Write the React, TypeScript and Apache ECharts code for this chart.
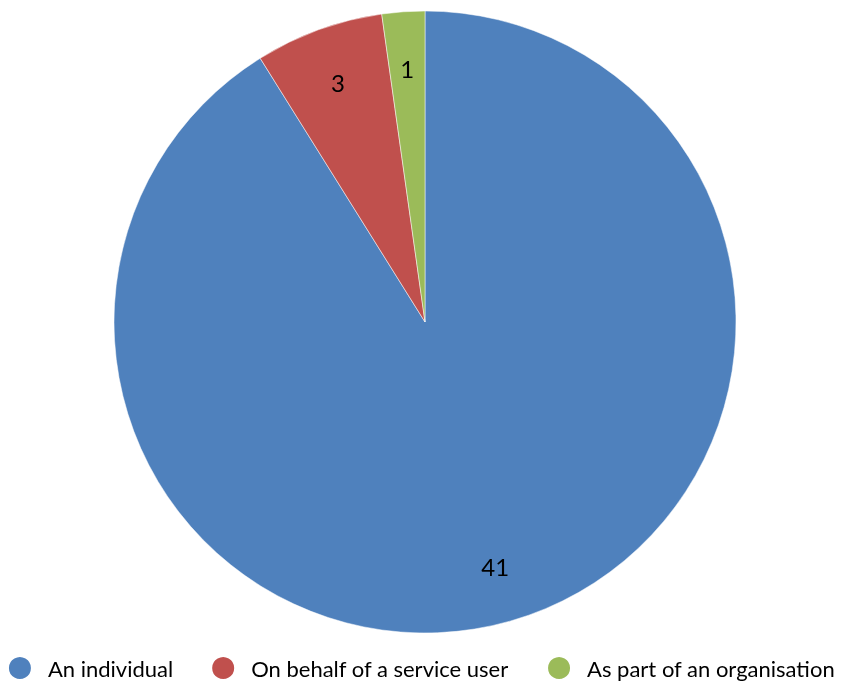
import React, { useEffect, useRef } from "react";
import * as echarts from "echarts";

const categories = ["An individual", "On behalf of a service user", "As part of an organisation"];
const values = [41, 3, 1];
const colors = ["#4F81BD", "#C0504D", "#9BBB59"];

export default function App() {
  const ref = useRef<HTMLDivElement>(null);
  useEffect(() => {
    if (!ref.current) return;
    const chart = echarts.init(ref.current, null, { renderer: "svg" });
    const data = categories.map((name, i) => ({ name, value: values[i], itemStyle: { color: colors[i] } }));
    chart.setOption({
      animation: false,
      textStyle: { fontFamily: "Lato" },
      legend: {
        top: 655,
        left: "center",
        padding: 0,
        icon: "circle",
        itemWidth: 24,
        itemHeight: 24,
        itemGap: 37,
        textStyle: { fontSize: 22, color: "#000", fontFamily: "Lato", padding: [0, 0, 0, 11] },
        data: categories,
      },
      series: [
        {
          type: "pie",
          center: [425, 322],
          radius: [0, 311],
          startAngle: 90,
          clockwise: true,
          label: { show: false },
          labelLine: { show: false },
          itemStyle: { borderColor: "#fff", borderWidth: 0.5 },
          silent: true,
          data,
        },
        {
          type: "pie",
          center: [425, 322],
          radius: [192, 311],
          startAngle: 90,
          clockwise: true,
          silent: true,
          itemStyle: { color: "rgba(0,0,0,0)" },
          label: {
            show: true,
            position: "inner",
            formatter: "{c}",
            fontSize: 24,
            color: "#000",
            fontFamily: "Lato",
          },
          labelLine: { show: false },
          legendHoverLink: false,
          data: categories.map((name, i) => ({ name, value: values[i] })),
        },
      ],
    });
    return () => chart.dispose();
  }, []);
  return <div ref={ref} style={{ position: "fixed", left: 0, top: 0, width: 842, height: 682 }} />;
}
